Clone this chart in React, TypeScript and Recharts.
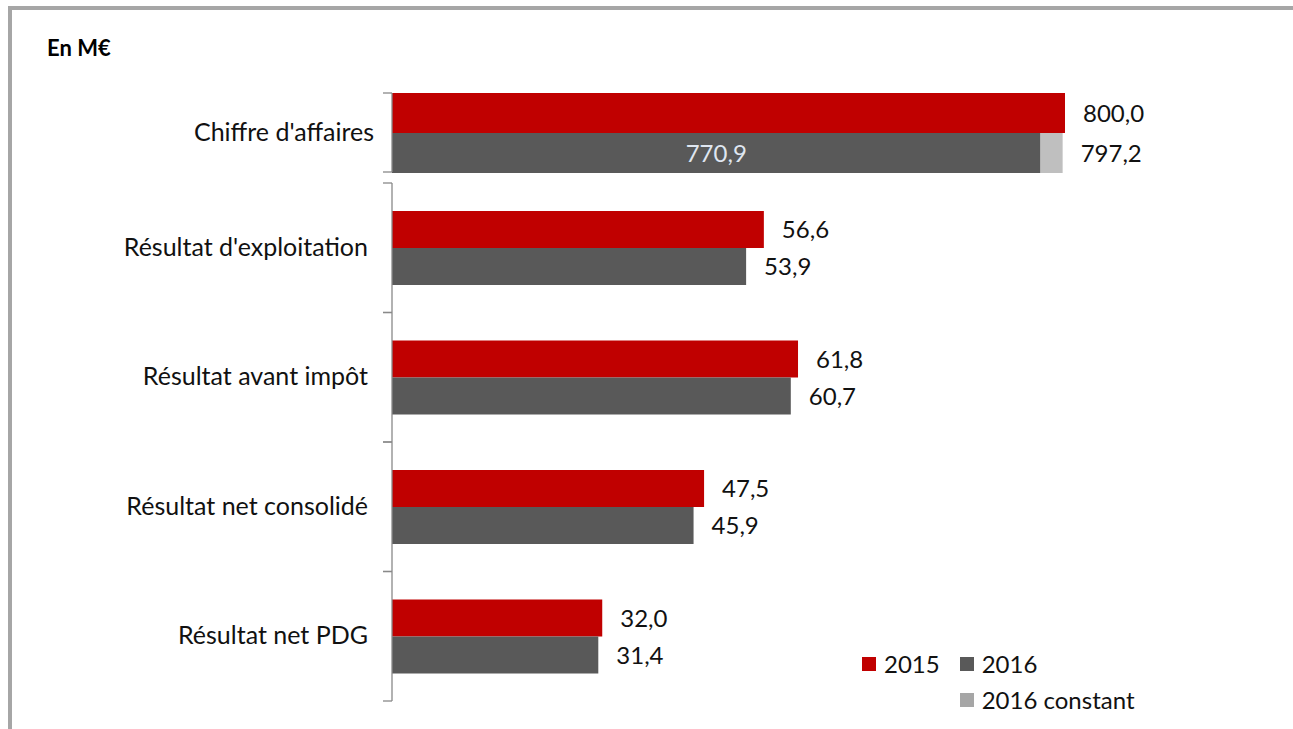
import React from 'react';
import { BarChart, Bar, XAxis, YAxis, LabelList } from 'recharts';

// chiffre d'affaires (own scale, chart is broken like the original)
const caCategory = ["Chiffre d'affaires"];
const ca2015 = [800.0];
const ca2016 = [770.9];
const ca2016Constant = [797.2];

// résultats
const categories = [
  "Résultat d'exploitation",
  'Résultat avant impôt',
  'Résultat net consolidé',
  'Résultat net PDG',
];
const values2015 = [56.6, 61.8, 47.5, 32.0];
const values2016 = [53.9, 60.7, 45.9, 31.4];

const RED = '#c00000';
const DARK = '#595959';
const LIGHT = '#bfbfbf';
const AXIS = '#898989';
const FONT = 'Lato, "Liberation Sans", sans-serif';

const caData = caCategory.map((name, i) => ({
  name,
  y2015: ca2015[i],
  y2016: ca2016[i],
  constPart: +(ca2016Constant[i] - ca2016[i]).toFixed(1),
  constTotal: ca2016Constant[i],
}));

const resData = categories.map((name, i) => ({
  name,
  y2015: values2015[i],
  y2016: values2016[i],
}));

const fmt = (v: any) => Number(v).toFixed(1).replace('.', ',');

// category tick: label at band centre, tick marks on band edges (Excel style)
const BandTick = (props: any) => {
  const { x, y, payload, gap = 16 } = props;
  const half = payload && payload.offset ? payload.offset : 0;
  return (
    <g>
      <line x1={x - 1} x2={x + 8} y1={y - half} y2={y - half} stroke={AXIS} strokeWidth={1.3} />
      <line x1={x - 1} x2={x + 8} y1={y + half} y2={y + half} stroke={AXIS} strokeWidth={1.3} />
      <text x={x - gap} y={y} dy={8} textAnchor="end" fill="#111" fontSize={25} fontFamily={FONT}>
        {payload.value}
      </text>
    </g>
  );
};

const LegendItem = ({ color, label }: { color: string; label: string }) => (
  <div style={{ display: 'flex', alignItems: 'center', gap: 8 }}>
    <span style={{ width: 14, height: 14, background: color, display: 'inline-block' }} />
    <span>{label}</span>
  </div>
);

export default function App() {
  return (
    <div
      style={{
        position: 'absolute',
        top: 0,
        left: 0,
        width: 1293,
        height: 729,
        overflow: 'hidden',
        background: '#fff',
        fontFamily: FONT,
      }}
    >
      <div
        style={{
          position: 'absolute',
          left: 8,
          top: 6,
          width: 1320,
          height: 760,
          border: '4px solid #a6a6a6',
          boxSizing: 'border-box',
        }}
      />
      <div
        style={{
          position: 'absolute',
          left: 47,
          top: 34,
          fontSize: 22,
          fontWeight: 700,
          color: '#000',
        }}
      >
        En M€
      </div>

      <div style={{ position: 'absolute', left: 0, top: 0 }}>
        <BarChart
          width={1293}
          height={180}
          data={caData}
          layout="vertical"
          margin={{ top: 93, right: 228, bottom: 8, left: 0 }}
          barCategoryGap={0}
          barGap={0}
        >
          <XAxis type="number" domain={[0, 800]} hide />
          <YAxis
            type="category"
            dataKey="name"
            width={392}
            axisLine={{ stroke: AXIS, strokeWidth: 1.3 }}
            tickLine={false}
            tick={<BandTick gap={10} />}
          />
          <Bar dataKey="y2015" stackId="a" fill={RED} isAnimationActive={false}>
            <LabelList dataKey="y2015" position="right" offset={18} formatter={fmt} fill="#111" fontSize={24} fontFamily={FONT} />
          </Bar>
          <Bar dataKey="y2016" stackId="b" fill={DARK} isAnimationActive={false}>
            <LabelList dataKey="y2016" position="center" formatter={fmt} fill="#dfe6f0" fontSize={24} fontFamily={FONT} />
          </Bar>
          <Bar dataKey="constPart" stackId="b" fill={LIGHT} isAnimationActive={false}>
            <LabelList dataKey="constTotal" position="right" offset={18} formatter={fmt} fill="#111" fontSize={24} fontFamily={FONT} />
          </Bar>
        </BarChart>
      </div>

      <div style={{ position: 'absolute', left: 0, top: 0 }}>
        <BarChart
          width={1293}
          height={729}
          data={resData}
          layout="vertical"
          margin={{ top: 183, right: 244, bottom: 28, left: 0 }}
          barCategoryGap={28}
          barGap={0}
        >
          <XAxis type="number" domain={[0, 100]} hide />
          <YAxis
            type="category"
            dataKey="name"
            width={392}
            axisLine={{ stroke: AXIS, strokeWidth: 1.3 }}
            tickLine={false}
            tick={<BandTick gap={16} />}
          />
          <Bar dataKey="y2015" fill={RED} isAnimationActive={false}>
            <LabelList dataKey="y2015" position="right" offset={18} formatter={fmt} fill="#111" fontSize={24} fontFamily={FONT} />
          </Bar>
          <Bar dataKey="y2016" fill={DARK} isAnimationActive={false}>
            <LabelList dataKey="y2016" position="right" offset={18} formatter={fmt} fill="#111" fontSize={24} fontFamily={FONT} />
          </Bar>
        </BarChart>
      </div>

      <div
        style={{
          position: 'absolute',
          left: 862,
          top: 650,
          fontSize: 24,
          color: '#111',
          display: 'grid',
          gridTemplateColumns: 'auto auto',
          columnGap: 20,
          rowGap: 8,
          lineHeight: '28px',
        }}
      >
        <LegendItem color={RED} label="2015" />
        <LegendItem color={DARK} label="2016" />
        <span />
        <LegendItem color="#a6a6a6" label="2016 constant" />
      </div>
    </div>
  );
}
